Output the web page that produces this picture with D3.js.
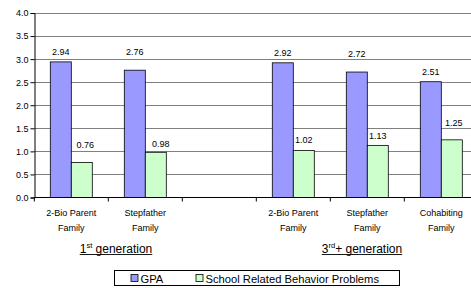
<!DOCTYPE html>
<html><head><meta charset="utf-8">
<script src="https://cdn.jsdelivr.net/npm/d3@7"></script>
<style>
html,body{margin:0;padding:0;background:#fff;}
svg{display:block;font-family:"Liberation Sans",Arial,sans-serif;}
</style></head>
<body>
<svg id="chart" width="471" height="288"></svg>
<script>
// ---- data ----
const categoryLines = [["2-Bio Parent","Family"],["Stepfather","Family"],["",""],["2-Bio Parent","Family"],["Stepfather","Family"],["Cohabiting","Family"]];
const gpa = [2.94, 2.76, null, 2.92, 2.72, 2.51];
const behavior = [0.76, 0.98, null, 1.02, 1.13, 1.25];
const seriesNames = ["GPA", "School Related Behavior Problems"];
const yTicks = [0, 0.5, 1.0, 1.5, 2.0, 2.5, 3.0, 3.5, 4.0];
const groupLabels = [{main:"1", sup:"st", rest:" generation"}, {main:"3", sup:"rd", rest:"+ generation"}];

// ---- styles ----
const colors = ["#9999ff", "#ccffcc"];
const svg = d3.select("#chart");

const x = d3.scaleBand().domain(d3.range(categoryLines.length)).range([34.3, 478.3]).padding(0);
const xs = d3.scaleBand().domain([0,1]).range([0, x.bandwidth()]).paddingInner(0).paddingOuter(0.762);
const y = d3.scaleLinear().domain([0, 4]).range([197.5, 13]);

// gridlines
svg.append("g").selectAll("line").data(yTicks.filter(t => t > 0)).join("line")
  .attr("x1", 34.3).attr("x2", 478).attr("y1", d => Math.round(y(d)) + 0.5).attr("y2", d => Math.round(y(d)) + 0.5)
  .attr("stroke", "#808080").attr("stroke-width", 1);

// bars
const series = [gpa, behavior];
series.forEach((vals, si) => {
  svg.append("g").selectAll("rect").data(vals.map((v, i) => ({v, i})).filter(d => d.v != null)).join("rect")
    .attr("x", d => x(d.i) + xs(si))
    .attr("y", d => y(d.v))
    .attr("width", xs.bandwidth())
    .attr("height", d => y(0) - y(d.v))
    .attr("fill", colors[si]).attr("stroke", "#000").attr("stroke-width", 0.8);
});

// value labels (manual placement nudges as in the original)
const lift = [[6.5, 15, 0, 7, 15, 7], [14, 5.5, 0, 7, 6.3, 14]];
const shift = [[0, 0, 0, 0, 0, 0], [3.5, 5, 0, 0, 0, 2]];
series.forEach((vals, si) => {
  svg.append("g").selectAll("text").data(vals.map((v, i) => ({v, i})).filter(d => d.v != null)).join("text")
    .attr("x", d => x(d.i) + xs(si) + xs.bandwidth() / 2 + shift[si][d.i])
    .attr("y", d => y(d.v) - lift[si][d.i])
    .attr("text-anchor", "middle").attr("font-size", 9).attr("fill", "#000")
    .text(d => d.v.toFixed(2));
});

// y axis
const yAxis = d3.axisLeft(y).tickValues(yTicks).tickFormat(d3.format(".1f")).tickSize(4).tickPadding(2);
const gy = svg.append("g").attr("transform", "translate(34.5,0)").call(yAxis);
gy.select(".domain").attr("stroke", "#000");
gy.selectAll(".tick line").attr("stroke", "#000");
gy.selectAll(".tick text").attr("font-size", 9).attr("font-family", "Liberation Sans, Arial, sans-serif").attr("fill", "#000");

// x axis
const gx = svg.append("g").attr("transform", `translate(0,${y(0)})`);
gx.append("line").attr("x1", 34.3).attr("x2", 478).attr("y1", 0).attr("y2", 0).attr("stroke", "#000");
gx.selectAll("line.tk").data(d3.range(categoryLines.length + 1)).join("line").attr("class", "tk")
  .attr("x1", d => 34.3 + d * x.step()).attr("x2", d => 34.3 + d * x.step())
  .attr("y1", 0).attr("y2", 4).attr("stroke", "#000");
const cl = svg.append("g").selectAll("text").data(categoryLines.map((l, i) => ({l, i}))).join("text")
  .attr("x", d => x(d.i) + x.bandwidth() / 2).attr("y", 216)
  .attr("text-anchor", "middle").attr("font-size", 9).attr("fill", "#000");
cl.each(function(d) {
  const t = d3.select(this);
  t.append("tspan").attr("x", x(d.i) + x.bandwidth() / 2).attr("dy", 0).text(d.l[0]);
  t.append("tspan").attr("x", x(d.i) + x.bandwidth() / 2).attr("dy", 14.5).text(d.l[1]);
});

// group labels (underlined text boxes)
const groupCenters = [116, 362];
groupLabels.forEach((g, gi) => {
  const t = svg.append("text").attr("x", groupCenters[gi]).attr("y", 252.5)
    .attr("text-anchor", "middle").attr("font-size", 12).attr("fill", "#000");
  t.append("tspan").text(g.main);
  t.append("tspan").attr("font-size", 7.5).attr("dy", -4.5).text(g.sup);
  t.append("tspan").attr("dy", 4.5).text(g.rest);
  const bb = t.node().getBBox();
  svg.append("line").attr("x1", bb.x).attr("x2", bb.x + bb.width)
    .attr("y1", 254.5).attr("y2", 254.5).attr("stroke", "#000").attr("stroke-width", 0.9);
});

// legend
const lg = svg.append("g");
lg.append("rect").attr("x", 114.5).attr("y", 270.5).attr("width", 285).attr("height", 15)
  .attr("fill", "#fff").attr("stroke", "#000").attr("stroke-width", 1);
const legendX = [131, 196];
seriesNames.forEach((n, i) => {
  lg.append("rect").attr("x", legendX[i]).attr("y", 274.5).attr("width", 7).attr("height", 7)
    .attr("fill", colors[i]).attr("stroke", "#000").attr("stroke-width", 0.8);
  lg.append("text").attr("x", legendX[i] + 9.5).attr("y", 282.5).attr("font-size", 11.2).attr("fill", "#000").text(n);
});
</script>
</body></html>
